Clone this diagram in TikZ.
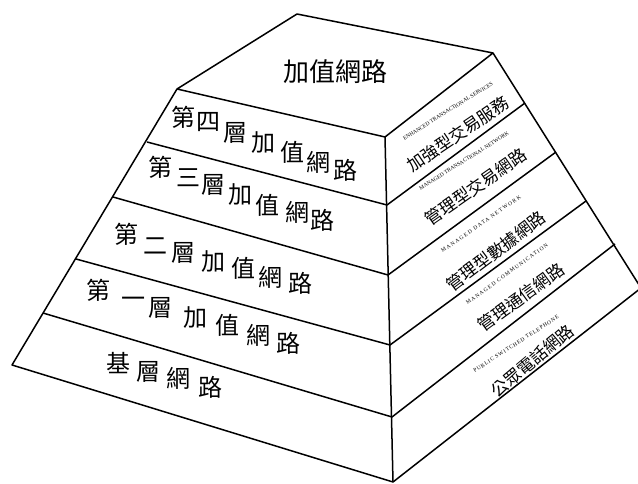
\documentclass[tikz,border=0pt]{standalone}
\usepackage{fontspec}
\newfontfamily\cjk{Noto Sans CJK TC}
\newfontfamily\engsmall{Liberation Serif}
\usetikzlibrary{positioning}

\begin{document}
\begin{tikzpicture}[x=1pt,y=-1pt,line width=1.5pt,line join=round,
	layerchar/.style={font=\cjk\fontsize{24}{24}\selectfont,inner sep=0pt},
	toplabel/.style={font=\cjk\fontsize{26}{26}\selectfont,inner sep=0pt},
	sidelabel/.style={font=\cjk\fontsize{17}{17}\selectfont,inner sep=0pt},
	sidesmall/.style={font=\engsmall\fontsize{5.5}{6}\selectfont,inner sep=0pt}
	]
	\useasboundingbox (0,0) rectangle (638,484);

	% corners of the pyramid
	\coordinate (top) at (297,14);
	\coordinate (r0) at (493,53);
	\coordinate (l0) at (177,89);
	\coordinate (c0) at (385,137);
	\coordinate (l1) at (147,142);
	\coordinate (l2) at (113,197);
	\coordinate (l3) at (76,259);
	\coordinate (l4) at (43,313);
	\coordinate (l5) at (12,365);
	\coordinate (c1) at (387,205);
	\coordinate (c2) at (388,275);
	\coordinate (c3) at (390,345);
	\coordinate (c4) at (392,417);
	\coordinate (c5) at (393,482);
	\coordinate (r1) at (525,103);
	\coordinate (r2) at (556,152);
	\coordinate (r3) at (586,201);
	\coordinate (r4) at (615,244);
	\coordinate (r5) at (641,288);

	\draw (l0) -- (top) -- (r0) -- (c0) -- cycle;
	\draw (l0) -- (l5) -- (c5) -- (r5) -- (r0);
	\draw (c0) -- (c5);
	\foreach \i in {1,...,4}
		\draw (l\i) -- (c\i) -- (r\i);

	\node[toplabel] (topname) at (335,72) {加值網路};

	% left face, one character at a time
	\foreach \ch/\px/\py [count=\i] in {第/183/117,四/208/122,層/235/133,加/263/143,值/292/152,網/318/162,路/345/170}
		\node[layerchar] (four\i) at (\px,\py) {\ch};
	\foreach \ch/\px/\py [count=\i] in {第/160/167,三/188/178,層/213/185,加/240/195,值/267/205,網/297/212,路/322/220}
		\node[layerchar] (three\i) at (\px,\py) {\ch};
	\foreach \ch/\px/\py [count=\i] in {第/126/234,二/155/246,層/183/253,加/213/262,值/243/268,網/270/277,路/300/283}
		\node[layerchar] (two\i) at (\px,\py) {\ch};
	\foreach \ch/\px/\py [count=\i] in {第/98/290,一/133/302,層/160/308,加/195/318,值/227/325,網/258/335,路/288/343}
		\node[layerchar] (one\i) at (\px,\py) {\ch};
	\foreach \ch/\px/\py [count=\i] in {基/118/363,層/148/372,網/178/378,路/210/387}
		\node[layerchar] (base\i) at (\px,\py) {\ch};

	% right face
	\node[sidesmall,rotate=32] (ets) at (448,111) {ENHANCED TRANSACTIONAL SERVICES};
	\node[sidelabel,rotate=34] (etsname) at (458,134) {加強型交易服務};
	\node[sidesmall,rotate=32] (mtn) at (464,161) {MANAGED TRANSACTIONAL NETWORK};
	\node[sidelabel,rotate=35] (mtnname) at (476,187) {管理型交易網路};
	\node[sidesmall,rotate=35] (mdn) at (481,224) {\addfontfeature{LetterSpace=25}MANAGED DATA NETWORK};
	\node[sidelabel,rotate=37] (mdnname) at (496,251) {管理型數據網路};
	\node[sidesmall,rotate=36] (mc) at (507,274) {\addfontfeature{LetterSpace=22}MANAGED COMMUNICATION};
	\node[sidelabel,rotate=36] (mcname) at (521,297) {管理通信網路};
	\node[sidesmall,rotate=33] (pst) at (516,344) {\addfontfeature{LetterSpace=15}PUBLIC SWITCHED TELEPHONE};
	\node[sidelabel,rotate=40] (pstname) at (532,361) {公眾電話網路};

\end{tikzpicture}
\end{document}
